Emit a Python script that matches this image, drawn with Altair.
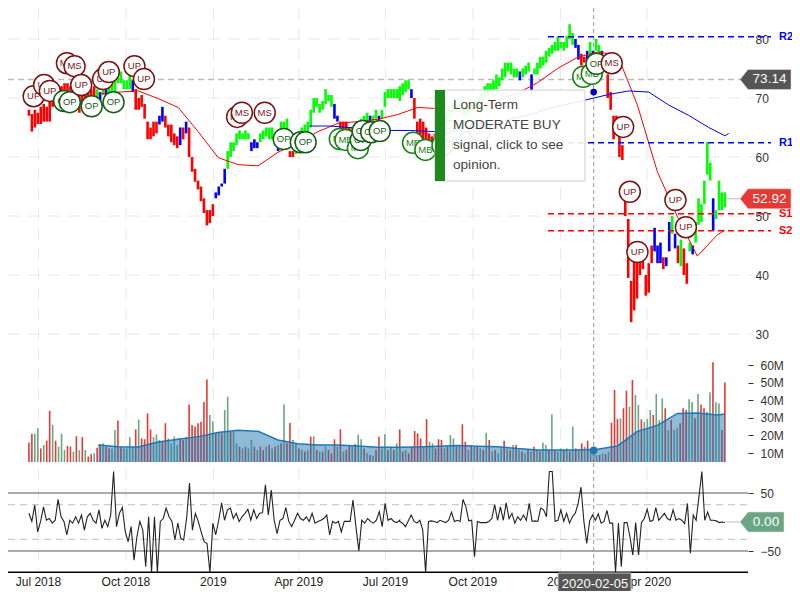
import altair as alt
import pandas as pd

FONT = "Liberation Sans"
# ---- price bars, sampled across the chart
a_high = [68,67.3,68,67.5,68.5,69,68.5,69.5,71,71,71.5,72,72.5,72.5,72,72,71.5,71.5,71,71,71,71.5,72,
          71.5,71,72,71.5,72,72.5,74,75,74.5,73,73,74,73,
          71.5,70,70.5,69,66,65,66,66,
          67,68.5,67,65.5,65.5,64,63.5,65,65,66,
          65,60,58,56,55,53,51,51,52,
          54,55,55.5,58,
          61,62.5,62.5,64,64.5,64,64.5,64,
          62.5,63,62.5,64,64.5,65,65,65,63.5,62,
          66,66,66.5,61,61,
          62,64,65,65.5,66,68,70,70,69,69.5,71.5,70.5,70.5,
          69,67,66,66,66,65,65,65,65,66.5,67,67.5,67,67,68,67,68,71,71.5,71.5,71.5,71.5,71.5]
a_low = [67,64.3,65,65.6,65.6,66,66,66,68.5,69,69,69.5,70,70.5,69.5,69.5,68.5,67.5,68,68.5,68.5,69,69.5,
         70,69.6,70.5,70,71,71,71,72.5,72.5,71.5,71.5,71.5,71,
         68,68,68.5,66.5,63,63,63.5,64,
         65.5,66,65,63.5,62.5,62,61.5,62,63,64,
         60,57.5,55.8,54.5,52.5,50.5,48.4,48.8,50,
         53,53.5,55,55.5,
         58,60,61,62,63,63,63,63,
         61,61.5,61.5,62.5,63,63.5,63,63,62,61,
         62,63,64.5,60,60,
         60.5,62,63,64,64,65,67.5,68.5,67.5,68,69,69.5,68.5,
         66.5,66,64,64,64.5,63,63.5,63,63,64.5,65.5,65.5,65,65.5,66.5,65.5,66.5,68.5,70,70,70,70,69.5]
a_color = "r"*23 + "gbgb" + "g"*8 + "b" + "r"*8 + "bb" + "r"*5 + "brb" + "r"*9 + "b"*4 + "g"*8 + "bbb" + "g"*5 + "bb" + "ggg" + "rr" + "g"*13 + "bb" + "rrrr" + "g"*6 + "bggb" + "g"*7

b_high = [72,72.5,73,73,71.5,
          70,66,66.5,66,65,64,63.5,64,63,
          64,65,
          67,68,69,69.5,69,68.5,68.5,68.5,69,69,69.5,70,71,72,72.5,72.5,73,74,73.5,75,76,76,76,75,75,
          74.5,75,75.5,76,74,
          75,76,77,77,78,78.5,79,79.5,80.5,79.5,79.5,80.5,82.5,81,
          80,79,77.5,77,78,79.5,78,80,79,78,
          77,74,71,67,67,64,62,54,49.5,39,43,44,45,43,40,42,45,
          48,45,45.5,43,43,49,50,47,45,46,44.5,42,45.5,45,49,53,52,56,62.5,59,53,51,56,54,54]
b_low = [70,70.5,71,71.5,70,
         66.5,63.5,63,63,63,62,61.5,62,61.5,
         62.5,64,
         65,66.5,67.5,68,68,67.5,67,67,67.5,68,68,68.5,69.5,70,70.5,71,71,71.5,72,73,73.5,74.5,74,73.5,73.5,
         73,73.5,74,74.5,71,
         74,74,75,75.5,76,77,77.5,78,78,78.5,78,78.5,80,79,
         78.5,76.5,75.5,76,76,76.5,76.5,78,77.5,76.5,
         75,70,68,63,64,60,59.5,50,39.5,32,34,36,40,41,36.5,37,42,
         44,42,42,41,41.5,44,47,44.5,42,41.5,40,38.5,44,43.5,45.5,48.5,49,52,57,56,47.5,49.5,51,51,51.5]
b_color = "gggg" + "b" + "r"*9 + "gb" + "g"*25 + "b" + "ggg" + "b" + "g"*14 + "bb" + "rr" + "bgb" + "gg" + "b" + "r"*17 + "bbb" + "rbbgbrgrrgb" + "g"*6 + "b" + "gggg"

# ---- volume, millions
va = [16,21,21,24,12.6,14.5,17,34,26,17,
      13.6,21,11.7,14,13.6,10.8,19.5,11.7,19,11.7,
      8,9.4,9.8,13,15,15.5,13.6,12.6,12.6,23,
      28.4,13.6,12.6,12.6,19,13.6,23.4,29,18.3,17.8,
      32.5,23.4,19,20.6,17.4,16.4,26.9,18.3,15.5,19.3,
      14.5,18.3,17.4,19.3,37.6,25.9,25,26.9,27.8,39,
      51.8,31.6,28,21.2,22.1,21.2,34.4,42,22.1,22.1,
      15.5,13.6,12.6,13.6,12.6,17.4,13.6,11.7,13.6,11.7,
      13.6,14.5,12.6,13.6,14.5,15.5,37.6,15.5,27,17.4,
      15.5,12.6,11.7,10.8,11.7,19.3,19.5,11.7,10.8,10.8,
      13.6,11.7,9.8,17.8,13.6,23.4,10.8,11.7,14.5,13.6,
      15,20.5,17.8,12.6,9.8,8.9,8.4,11.7,19.3,12.6,
      20.6,11.7,13.6,11.7,15.5,23.4]
va_c = "rrggrgrrgr" "gggrrgrgrg" "rrgrrgrrgg" "rrggggrgrr" "rrgggrrggg" "grrgrrrrrr" "rggrgrggrg" "grgrggrgrr" "grgrgrgrrg" "grgrgrgrgr" "grrrgrgrrg" "rggrgrgrrg" "grgrgr"
vb = [12.6,10.8,11.7,9.8,13.6,22.5,21.2,18.3,13,29.3,
      16.4,15.5,12.6,17.8,17.4,12.6,13.6,20.2,18.3,13.6,
      13.6,26.3,16.4,11.7,14.5,13.6,13.6,12.6,11.7,21.5,
      17.4,10.8,11.7,9.8,12.6,17,12.6,11.7,14.5,14.5,
      11.7,10.8,9.8,11.7,10.8,13.6,11.7,10.8,15.9,14.5,
      11.7,32,11.7,10.8,12.6,11.7,12.6,10.8,25,12.6,
      11.7,15.5,13.6,17,11.7,10.8,8.9,8.9,9.8,9.4,
      10.8,27.2,45.8,29.3,29.7,35.4,45.4,36.3,51.5,43,
      37.3,29.1,27.8,29.3,34.4,31.6,43.5,28.7,41,35.4,
      23,28.7,23,24,26.9,35.4,34.4,40.5,39,29.7,
      43.5,37.6,35.4,33.5,44.5,61.5,38.8,38.2,23,50]
vb_c = "grgrrrrrgr" "ggrrrgrggr" "grrgrgrgrg" "rgrggrgrgr" "grgrgrgrgg" "rgrggrgrgr" "grgrgrgrgr" "grrrgrrgrg" "grgggrgggr" "grggrrrggr" "grrggrggrr"

# ---- volume average (21-day samples)
vol_avg = [14.5,13.6,13.4,16.2,17.8,19.3,21.7,22.9,22.3,17.4,15.3,14.5,14.5,14,13.2,13.2,
           13.4,13.8,14.2,13.8,13.6,12.5,11.7,11.7,11.7,12.1,14,22.3,25.7,32.5,32.7,31.6,32.2]
# ---- moving averages (21-day samples)
ma_red = [70.7,71,71.2,69.9,68.4,64.3,59.9,58.7,58.5,60.8,62.4,64.3,65.7,66,66.4,67.2,
          68.4,68.2,67.7,68.4,69.7,70.8,72.6,75,76.9,77.8,77.3,68.8,57.5,49.9,43.2,46.8,47.6]
ma_blue = [65.25,65.25,65,64.9,64.5,64.5,64.35,64.2,64.3,65.25,66.4,67.1,68.25,69,69.8,70.6,71.2,71,68.8,67.05,65,64,63.6]

# ---- oscillator
cci_a = [15,1,29,-17,1,26,3,6,-2,3,39,9,1,-22,3,-2,9,-2,12,-14,9,15,3,-2,21,-11,3,-8,12,87,-8,15,25,-17,-34,-8,-66,-25,1,-14,-77,9,-87,9,-87,1,6,24,9,1,-31,-2,-28,-31,6,67,-14,15,1,-17,-34,-37,-87,-2,-22,3,33,3,21,24,6,15,1,9,15,22,3,21,6,15,16,64,12,55,3,-20,3,6,25,1,-8,3,15,6,3,9,1,15,-2,1,3,6,12,-22,1,-2,1,-17,1,1,1,38,-8,-50,3,-2,6,1,-2,3,18,-8,32,3,6,1,-1,3]
cci_b = [1,-2,-8,2,12,1,-2,3,-14,-87,1,2,1,-1,3,1,-1,3,17,1,3,1,39,26,2,3,-60,1,-1,-1,-1,1,6,30,3,26,3,33,6,15,-2,9,3,12,3,32,1,2,1,24,21,9,87,87,1,3,21,1,15,-2,9,15,32,60,1,-37,2,12,3,14,-2,1,20,-2,-2,-87,-2,-77,-1,-1,-25,-57,-1,-57,-1,6,22,1,3,25,3,9,15,6,3,21,3,6,3,-3,32,-54,12,3,44,87,3,17,3,3,2,-1,0,-1]

# ---- signal badges: date, price, label
badge_dates = ["2018-06-26","2018-07-07","2018-07-13","2018-07-31","2018-08-08","2018-07-28","2018-08-03","2018-08-15","2018-08-26","2018-09-18","2018-09-07","2018-09-13","2018-10-10","2018-10-20",
               "2019-01-26","2019-01-31","2019-02-24","2019-03-16","2019-04-03","2019-04-08","2019-05-14","2019-05-20","2019-06-02","2019-06-05","2019-06-07","2019-06-16","2019-06-25",
               "2019-07-30","2019-08-12","2019-08-30","2019-09-08","2019-10-08",
               "2020-01-25","2020-02-03","2020-02-08","2020-02-24","2020-03-07","2020-03-14","2020-03-22","2020-05-01","2020-05-12"]
badge_prices = [70.3,72.2,71.2,75.9,75.4,69.5,69.3,72.2,68.6,69.3,73.2,74.4,75.4,73.2,
                66.8,67.5,67.5,63.05,62.5,62.5,63.05,62.9,61.5,62.9,64.4,64.2,64.4,
                62.4,61.2,62,64.4,64.4,
                73.6,74.1,75.8,75.9,65.1,54.1,43.9,52.7,48.1]
badge_text = ["UP","UP","UP","MS","MS","OP","OP","UP","OP","OP","UP","UP","UP","UP",
              "MS","MS","MS","OP","OP","OP","MB","MB","MB","OP","OP","OP","OP",
              "MB","MB","MB","OP","OP",
              "MB","MB","OP","MS","UP","UP","UP","UP","UP"]
badge_colors = {"UP": "#7b1414", "MS": "#7b1414", "OP": "#155c15", "MB": "#128212"}

price_ticks = [30,40,50,60,70,80]
vol_ticks = [10,20,30,40,50,60]
cci_ticks = [50,-50]
date_ticks = ["2018-07-01","2018-10-01","2019-01-01","2019-04-01","2019-07-01","2019-10-01","2020-01-01","2020-04-01"]
date_labels = ["Jul 2018","Oct 2018","2019","Apr 2019","Jul 2019","Oct 2019","2020","Apr 2020"]
tooltip_lines = ["Long-Term","MODERATE BUY","signal, click to see","opinion."]
levels = [("R2",80.4,"#0000ff"),("R1",62.4,"#0000ff"),("S1",50.4,"#ff0000"),("S2",47.5,"#ff0000")]

# ---- tables
cmap = {"r":"#ff0000","g":"#00ff00","b":"#0000ff"}
vmap = {"r":"#e53935","g":"#6aa584"}
T0, T1, T2 = "2018-06-21", "2019-07-16", "2020-06-22"
def span(vals, a, b):
    return pd.date_range(a, b, periods=len(vals))
bars = pd.concat([
    pd.DataFrame({"d":span(a_high,T0,T1),"h":a_high,"l":a_low,"c":[cmap[c] for c in a_color]}),
    pd.DataFrame({"d":span(b_high,T1,T2),"h":b_high,"l":b_low,"c":[cmap[c] for c in b_color]})])
vols = pd.concat([
    pd.DataFrame({"d":span(va,T0,T1),"v":va,"c":[vmap[c] for c in va_c]}),
    pd.DataFrame({"d":span(vb,T1,T2),"v":vb,"c":[vmap[c] for c in vb_c]})])
vols["base"] = 4.9
cci = pd.concat([
    pd.DataFrame({"d":span(cci_a,T0,T1),"v":cci_a}),
    pd.DataFrame({"d":span(cci_b,T1,T2),"v":cci_b})])
def step21(vals, start):
    ds = list(pd.date_range(start, periods=len(vals)-1, freq="21D")) + [pd.Timestamp(T2)]
    return ds
avg = pd.DataFrame({"d":step21(vol_avg,"2018-09-02"),"v":vol_avg,"base":4.9})
red = pd.DataFrame({"d":step21(ma_red,"2018-09-02"),"p":ma_red})
blue = pd.DataFrame({"d":step21(ma_blue,"2019-04-12"),"p":ma_blue})
one = pd.DataFrame({"a":[0]})

W, H = 784, 583
xs = alt.Scale(domain=["2018-05-30","2020-09-09"], range=[0,792], nice=False)
X = lambda f="d": alt.X(f"{f}:T", scale=xs, axis=None, title=None)
ps = alt.Scale(domain=[30,80], range=[326,31], zero=False, nice=False)
vs = alt.Scale(domain=[10,60], range=[445,357], zero=False, nice=False)
cs = alt.Scale(domain=[-50,50], range=[543,485], zero=False, nice=False)
YP = lambda f="p", axis=None: alt.Y(f"{f}:Q", scale=ps, axis=axis, title=None)
YV = lambda f="v", axis=None: alt.Y(f"{f}:Q", scale=vs, axis=axis, title=None)
YC = lambda f="v", axis=None: alt.Y(f"{f}:Q", scale=cs, axis=axis, title=None)
GRID = "#e8e8e8"
layers = []

# vertical grid + date labels
dt = pd.DataFrame({"d":pd.to_datetime(date_ticks),"t":date_labels})
layers.append(alt.Chart(dt).mark_rule(color=GRID, strokeWidth=1, strokeDash=[12,8]).encode(
    x=X(), y=alt.value(0), y2=alt.value(564)))
layers.append(alt.Chart(dt).mark_text(color="#222222", font=FONT, fontSize=12).encode(
    x=X(), y=alt.value(574), text="t:N"))
# price axis & horizontal grid
layers.append(alt.Chart(pd.DataFrame({"p":price_ticks})).mark_rule(color=GRID, strokeWidth=1, strokeDash=[12,8]).encode(
    x=alt.value(0), x2=alt.value(745),
    y=YP(axis=alt.Axis(orient="right", offset=747-W, values=price_ticks, grid=False, domain=False, ticks=False, labelPadding=0,
                       labelFontSize=12, labelFont=FONT, labelColor="#333"))))
# volume bars, average
layers.append(alt.Chart(vols).mark_rule(strokeWidth=1.6).encode(
    x=X(), y=YV(axis=alt.Axis(orient="right", offset=740-W, values=vol_ticks, grid=False, domain=False, tickSize=5, tickColor="#333",
                              labelPadding=7, labelFontSize=12, labelFont=FONT, labelColor="#333", labelExpr="datum.value+'M'")),
    y2="base:Q", color=alt.Color("c:N", scale=None)))
layers.append(alt.Chart(avg).mark_area(color="#1f77b4", opacity=0.5).encode(x=X(), y=YV(), y2="base:Q"))
layers.append(alt.Chart(avg).mark_line(color="#1f77b4", strokeWidth=1.5).encode(x=X(), y=YV()))
# oscillator bands
layers.append(alt.Chart(pd.DataFrame({"v":cci_ticks})).mark_rule(color="#aaaaaa", strokeWidth=2).encode(
    x=alt.value(0), x2=alt.value(740),
    y=YC(axis=alt.Axis(orient="right", offset=740-W, values=cci_ticks, grid=False, domain=False, tickSize=5, tickColor="#333",
                       labelPadding=7, labelFontSize=12, labelFont=FONT, labelColor="#333"))))
layers.append(alt.Chart(pd.DataFrame({"v":[30,-30]})).mark_rule(color="#cccccc", strokeWidth=1.2, strokeDash=[7,5]).encode(
    x=alt.value(0), x2=alt.value(740), y=YC()))
layers.append(alt.Chart(cci).mark_line(color="#222222", strokeWidth=1.1).encode(x=X(), y=YC()))
layers.append(alt.Chart(pd.DataFrame({"v":[-86.5]})).mark_rule(color="#000000", strokeWidth=1.5).encode(
    x=alt.value(0), x2=alt.value(740), y=YC()))
# crosshair
cross = pd.DataFrame({"d":pd.to_datetime(["2020-02-05"]),"p":[71.0],"v":[11.5]})
layers.append(alt.Chart(cross).mark_rule(color="#999999", strokeWidth=1, strokeDash=[4,3]).encode(
    x=X(), y=alt.value(0), y2=alt.value(564)))
# last-price guides
layers.append(alt.Chart(pd.DataFrame({"p":[73.14]})).mark_rule(color="#bbbbbb", strokeWidth=1.5, strokeDash=[6,4]).encode(
    x=alt.value(0), x2=alt.value(732), y=YP()))
layers.append(alt.Chart(pd.DataFrame({"p":[52.92]})).mark_rule(color="#bbbbbb", strokeWidth=1).encode(
    x=alt.value(718), x2=alt.value(732), y=YP()))
layers.append(alt.Chart(pd.DataFrame({"v":[0]})).mark_rule(color="#bbbbbb", strokeWidth=1).encode(
    x=alt.value(718), x2=alt.value(732), y=YC()))
# price bars and averages
layers.append(alt.Chart(bars).mark_rule(strokeWidth=2.6).encode(x=X(), y=YP("h"), y2="l:Q", color=alt.Color("c:N", scale=None)))
layers.append(alt.Chart(red).mark_line(color="#ff0000", strokeWidth=1).encode(x=X(), y=YP()))
layers.append(alt.Chart(blue).mark_line(color="#0000ff", strokeWidth=1).encode(x=X(), y=YP()))
layers.append(alt.Chart(cross).mark_circle(color="#0000cc", size=45, opacity=1).encode(x=X(), y=YP()))
layers.append(alt.Chart(cross).mark_circle(color="#1f77b4", size=60, opacity=1).encode(x=X(), y=YV()))
# support/resistance
for name, val, col in levels:
    t = pd.DataFrame({"p":[val],"t":[name]})
    layers.append(alt.Chart(t).mark_rule(color=col, strokeWidth=1.5, strokeDash=[6,4]).encode(
        x=alt.value(540), x2=alt.value(763), y=YP()))
    layers.append(alt.Chart(t).mark_text(color=col, font=FONT, fontSize=11, fontWeight="bold", align="left").encode(
        x=alt.value(771), y=YP(), text="t:N"))
# badges, each over the ones before
for d, p, t in zip(badge_dates, badge_prices, badge_text):
    rec = pd.DataFrame({"d":pd.to_datetime([d]),"p":[p],"t":[t]})
    col = badge_colors[t]
    layers.append(alt.Chart(rec).mark_point(shape="circle", filled=True, fill="#ffffff", fillOpacity=1, stroke=col, strokeWidth=1.5, strokeOpacity=1, size=441).encode(x=X(), y=YP()))
    layers.append(alt.Chart(rec).mark_text(color=col, font=FONT, fontSize=9.5).encode(x=X(), y=YP(), text="t:N"))
# tooltip box
layers.append(alt.Chart(one).mark_rect(fill="#ffffff", fillOpacity=0.9, stroke="#cccccc", strokeWidth=1).encode(
    x=alt.value(427), x2=alt.value(577), y=alt.value(82), y2=alt.value(173)))
layers.append(alt.Chart(one).mark_rect(fill="#1e8a1e").encode(
    x=alt.value(427), x2=alt.value(437), y=alt.value(82), y2=alt.value(173)))
for i, line in enumerate(tooltip_lines):
    layers.append(alt.Chart(pd.DataFrame({"t":[line]})).mark_text(color="#444444", font=FONT, fontSize=13.6, align="left", baseline="alphabetic").encode(
        x=alt.value(445), y=alt.value(101 + 20*i), text="t:N"))
# value tags
TAG = "M-8,0L0,-10L{w},-10L{w},10L0,10Z"
def tag(val, enc, txt, fill, w, tfill="#ffffff"):
    rec = pd.DataFrame({"v":[val],"t":[txt]})
    layers.append(alt.Chart(rec).mark_point(shape=TAG.format(w=w), filled=True, fill=fill, fillOpacity=1, stroke="#dddddd", strokeWidth=1, strokeOpacity=0.6, size=4).encode(
        x=alt.value(740), y=enc("v")))
    layers.append(alt.Chart(rec).mark_text(color=tfill, font=FONT, fontSize=13.5).encode(
        x=alt.value(740 + w/2), y=enc("v"), text="t:N"))
tag(73.14, YP, "73.14", "#555555", 43)
tag(52.92, YP, "52.92", "#e53935", 43)
tag(0, YC, "0.00", "#6aa584", 36)
# date tag
layers.append(alt.Chart(one).mark_rect(fill="#555555", stroke="#cccccc", strokeWidth=1).encode(
    x=alt.value(550), x2=alt.value(623), y=alt.value(565), y2=alt.value(587)))
layers.append(alt.Chart(pd.DataFrame({"t":["2020-02-05"]})).mark_text(color="#ffffff", font=FONT, fontSize=13).encode(
    x=alt.value(587), y=alt.value(576), text="t:N"))

chart = alt.layer(*layers).resolve_scale(y="independent").properties(
    width=W, height=H, padding=0, autosize=alt.AutoSizeParams(type="none"), background="#ffffff"
).configure_view(stroke=None)
chart.save("out.html", embed_options={"renderer": "svg", "actions": False})
